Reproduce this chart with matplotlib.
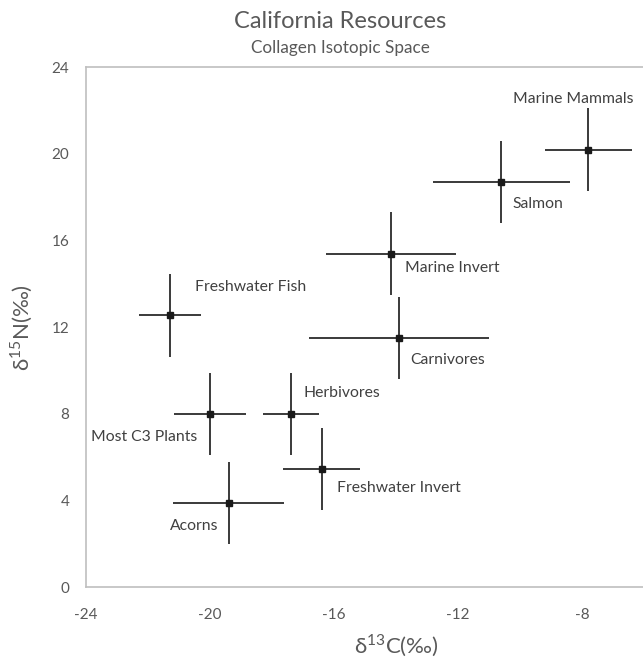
import numpy as np
import matplotlib
matplotlib.use('Agg')
import matplotlib.pyplot as plt

plt.rcParams['font.family'] = ['Lato', 'DejaVu Sans']
plt.rcParams['mathtext.fontset'] = 'custom'
plt.rcParams['mathtext.rm'] = 'Lato'
plt.rcParams['axes.unicode_minus'] = False

groups = ['Marine Mammals', 'Salmon', 'Marine Invert', 'Carnivores', 'Freshwater Fish',
          'Most C3 Plants', 'Herbivores', 'Freshwater Invert', 'Acorns']
d13c = [-7.8, -10.6, -14.15, -13.9, -21.3, -20.0, -17.4, -16.4, -19.4]
d15n = [20.2, 18.7, 15.4, 11.5, 12.55, 8.0, 8.0, 5.45, 3.9]
c_err = [1.4, 2.2, 2.1, 2.9, 1.0, 1.15, 0.9, 1.25, 1.8]
n_err = [1.9, 1.9, 1.9, 1.9, 1.9, 1.9, 1.9, 1.9, 1.9]

# label anchor (x, y, ha) in data units
label_pos = [(-10.23, 22.54, 'left'), (-10.23, 17.69, 'left'), (-13.71, 14.74, 'left'),
             (-13.53, 10.49, 'left'), (-20.48, 13.85, 'left'), (-20.42, 6.95, 'right'),
             (-16.97, 8.97, 'left'), (-15.89, 4.59, 'left'), (-21.29, 2.83, 'left')]

grey = '#595959'
fig = plt.figure(figsize=(6.43, 6.6), dpi=100)
ax = fig.add_axes([86/643, 72.7/660, 620/643, 520/660])

ax.errorbar(d13c, d15n, xerr=c_err, yerr=n_err, fmt='s', color='#1a1a1a',
            ecolor='#3a3a3a', elinewidth=1.4, markersize=5, capsize=0)

for name, (lx, ly, ha) in zip(groups, label_pos):
    ax.text(lx, ly, name, ha=ha, va='center', fontsize=11.3, color='#404040')

ax.set_xlim(-24, -4)
ax.set_ylim(0, 24)
ax.set_xticks(np.arange(-24, -7, 4))
ax.set_yticks(np.arange(0, 25, 4))
ax.tick_params(length=0, labelsize=11, labelcolor=grey)
ax.tick_params(axis='x', pad=15)
ax.tick_params(axis='y', pad=12)
for s in ax.spines.values():
    s.set_color('#bfbfbf')
    s.set_linewidth(1.2)

ax.set_xlabel(r'δ$^{\mathregular{13}}$C(‰)', fontsize=16, color=grey, labelpad=8)
ax.set_ylabel(r'δ$^{\mathregular{15}}$N(‰)', fontsize=16, color=grey, labelpad=12)

fig.text(340/643, 1 - 21.7/660, 'California Resources', ha='center', va='center',
         fontsize=17, color=grey)
fig.text(340/643, 1 - 48.3/660, 'Collagen Isotopic Space', ha='center', va='center',
         fontsize=12.3, color=grey)

plt.savefig('out.png', dpi=100)
